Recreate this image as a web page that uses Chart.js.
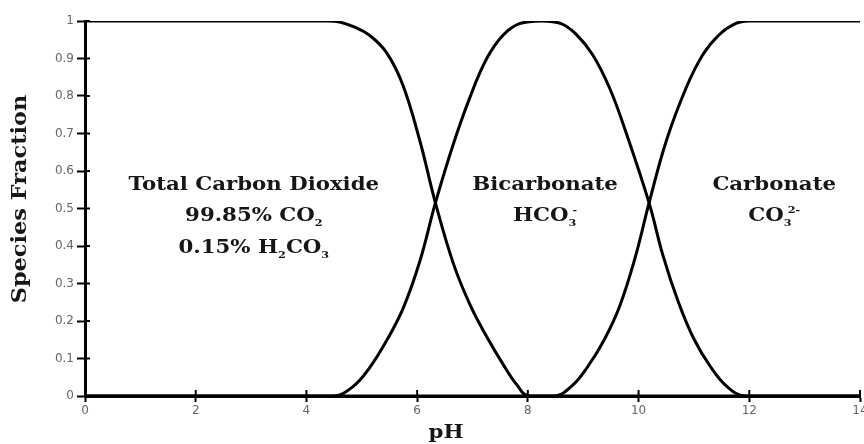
<!DOCTYPE html>
<html lang="en">
<head>
<meta charset="UTF-8">
<title>Carbonate species fraction vs pH</title>
<script src="https://cdn.jsdelivr.net/npm/chart.js@4"></script>
<style>
  html, body { margin: 0; padding: 0; background: #fff; overflow: hidden; }
  .chart-box { width: 880px; height: 444px; position: relative; }
</style>
</head>
<body>
<div class="chart-box"><canvas id="speciesChart"></canvas></div>
<script>
// values: pH and species fraction
const co2Ph    = [0, 4.4, 4.6, 4.85, 5.14, 5.45, 5.74, 6.05, 6.33, 6.65, 6.95, 7.25, 7.55, 7.8, 8.03, 14];
const co2Frac  = [1, 1, 0.997, 0.985, 0.962, 0.915, 0.83, 0.68, 0.515, 0.355, 0.245, 0.16, 0.085, 0.03, 0, 0];

const hco3Ph   = [0, 4.48, 4.84, 5.14, 5.45, 5.75, 6.05, 6.33, 6.65, 6.95, 7.25, 7.55, 7.85, 8.25, 8.6, 8.87, 9.17, 9.48, 9.78, 10.19, 10.44, 10.72, 11.0, 11.3, 11.6, 11.92, 14];
const hco3Frac = [0, 0, 0.025, 0.075, 0.148, 0.235, 0.36, 0.515, 0.67, 0.795, 0.898, 0.962, 0.993, 1, 0.993, 0.965, 0.91, 0.82, 0.7, 0.515, 0.375, 0.25, 0.152, 0.078, 0.025, 0, 0];

const co3Ph    = [0, 8.46, 8.78, 9.08, 9.38, 9.66, 9.94, 10.19, 10.5, 10.86, 11.16, 11.46, 11.75, 12.0, 14];
const co3Frac  = [0, 0, 0.025, 0.078, 0.15, 0.24, 0.37, 0.515, 0.68, 0.822, 0.91, 0.964, 0.993, 1, 1];

// region labels, ['text', ''|'sub'|'sup'] segments per line
const regionText = [
  [[['Total Carbon Dioxide', '']], [['99.85% CO', ''], ['2', 'sub']], [['0.15% H', ''], ['2', 'sub'], ['CO', ''], ['3', 'sub']]],
  [[['Bicarbonate', '']], [['HCO', ''], ['3', 'sub'], ['-', 'sup']]],
  [[['Carbonate', '']], [['CO', ''], ['3', 'sub'], ['2-', 'sup']]]
];

const xTitle = 'pH';
const yTitle = 'Species Fraction';

// where the labels sit, in pH / fraction units
const regionAnchor = [[3.05, 0.563], [8.31, 0.563], [12.45, 0.563]];
const lineGap = 0.084;

const serif = '"DejaVu Serif", "Liberation Serif", serif';
const textSize = 19;
const stretch = 1.12; // the original face is wider than DejaVu Serif

function toPoints(xs, ys) {
  return xs.map((x, i) => ({ x: x, y: ys[i] }));
}

function textWidth(ctx, t, font) {
  ctx.font = font;
  return ctx.measureText(t).width * stretch;
}

function drawStretched(ctx, t, x, y) {
  ctx.save();
  ctx.translate(x, y);
  ctx.scale(stretch, 1);
  ctx.fillText(t, 0, 0);
  ctx.restore();
}

function drawRich(ctx, segs, cx, cy, size) {
  const base = `bold ${size}px ${serif}`;
  const small = `bold ${Math.round(size * 0.55)}px ${serif}`;
  const widths = segs.map(([t, s]) => textWidth(ctx, t, s ? small : base));
  let total = 0;
  segs.forEach(([t, s], i) => {
    // superscript right after a subscript stacks on it
    if (s === 'sup' && i > 0 && segs[i - 1][1] === 'sub') total += widths[i] - widths[i - 1] * 0.5;
    else total += widths[i];
  });
  let x = cx - total / 2;
  segs.forEach(([t, s], i) => {
    ctx.font = s ? small : base;
    if (s === 'sup' && i > 0 && segs[i - 1][1] === 'sub') x -= widths[i - 1] * 0.5;
    const dy = s === 'sub' ? size * 0.38 : s === 'sup' ? -size * 0.3 : 0;
    drawStretched(ctx, t, x, cy + dy);
    x += widths[i];
  });
}

const extras = {
  id: 'extras',
  afterDraw(chart) {
    const { ctx, scales: { x, y }, chartArea } = chart;
    ctx.save();
    // short inner tick marks so the ticks cross the axis lines
    ctx.strokeStyle = '#000';
    ctx.lineWidth = 2;
    x.ticks.forEach(t => {
      const px = x.getPixelForValue(t.value);
      ctx.beginPath(); ctx.moveTo(px, chartArea.bottom); ctx.lineTo(px, chartArea.bottom - 6); ctx.stroke();
    });
    y.ticks.forEach(t => {
      const py = y.getPixelForValue(t.value);
      ctx.beginPath(); ctx.moveTo(chartArea.left, py); ctx.lineTo(chartArea.left + 5, py); ctx.stroke();
    });

    ctx.fillStyle = '#161616';
    ctx.textBaseline = 'middle';
    ctx.textAlign = 'left';
    regionText.forEach((lines, r) => {
      const [ax, ay] = regionAnchor[r];
      lines.forEach((segs, i) => {
        drawRich(ctx, segs, x.getPixelForValue(ax), y.getPixelForValue(ay - i * lineGap), textSize);
      });
    });

    // axis titles
    const titleFont = `bold 19px ${serif}`;
    const tw = textWidth(ctx, xTitle, titleFont);
    drawStretched(ctx, xTitle, 446 - tw / 2, 433);

    const yTitleFont = `bold 20px ${serif}`;
    const yw = textWidth(ctx, yTitle, yTitleFont);
    ctx.translate(21, 199);
    ctx.rotate(-Math.PI / 2);
    drawStretched(ctx, yTitle, -yw / 2, 0);
    ctx.restore();
  }
};

new Chart(document.getElementById('speciesChart'), {
  type: 'line',
  data: {
    datasets: [
      { label: 'CO2', data: toPoints(co2Ph, co2Frac) },
      { label: 'HCO3-', data: toPoints(hco3Ph, hco3Frac) },
      { label: 'CO3 2-', data: toPoints(co3Ph, co3Frac) }
    ]
  },
  options: {
    responsive: true,
    maintainAspectRatio: false,
    animation: false,
    layout: { padding: { top: 21, right: 20, left: 0, bottom: 0 } },
    elements: {
      line: { borderColor: '#000', borderWidth: 3, tension: 0.4, fill: false },
      point: { radius: 0, hoverRadius: 0 }
    },
    plugins: { legend: { display: false }, tooltip: { enabled: false } },
    scales: {
      x: {
        type: 'linear', min: 0, max: 14,
        ticks: { stepSize: 2, color: '#666', padding: 2, maxRotation: 0, font: { family: '"DejaVu Sans", sans-serif', size: 12 } },
        grid: { drawOnChartArea: false, drawTicks: true, tickLength: 6, tickWidth: 2, tickColor: '#000' },
        border: { display: true, color: '#000', width: 3 },
        afterFit(s) { s.height = 48; }
      },
      y: {
        min: 0, max: 1,
        ticks: {
          stepSize: 0.1, color: '#666', padding: 3,
          font: { family: '"DejaVu Sans", sans-serif', size: 12 },
          callback: v => String(Math.round(v * 10) / 10)
        },
        grid: { drawOnChartArea: false, drawTicks: true, tickLength: 8, tickWidth: 2, tickColor: '#000' },
        border: { display: true, color: '#000', width: 3 },
        afterFit(s) { s.width = 85; }
      }
    }
  },
  plugins: [extras]
});
</script>
</body>
</html>
